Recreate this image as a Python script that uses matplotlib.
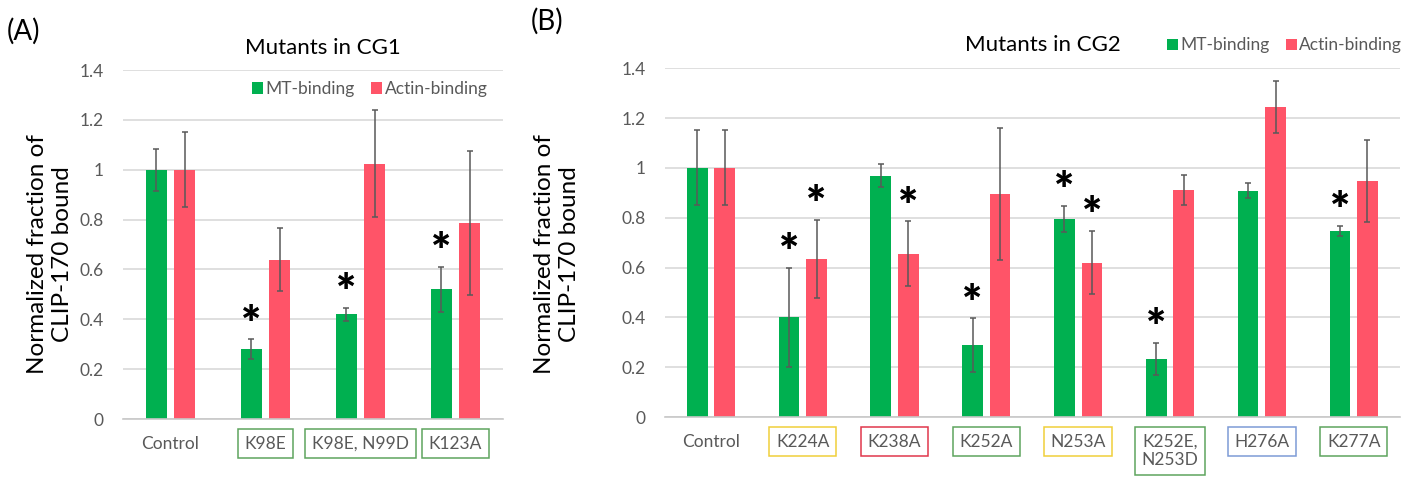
import numpy as np
import matplotlib
matplotlib.use("Agg")
import matplotlib.pyplot as plt

plt.rcParams['font.family'] = ['Lato', 'DejaVu Sans']

# ---- data ----
cg1_labels = ["Control", "K98E", "K98E, N99D", "K123A"]
cg1_box = [None, "green", "green", "green"]
cg1_mt = [1.0, 0.28, 0.42, 0.52]
cg1_mt_err = [0.085, 0.04, 0.025, 0.09]
cg1_actin = [1.0, 0.64, 1.025, 0.787]
cg1_actin_err = [0.15, 0.125, 0.215, 0.29]
cg1_mt_sig = [False, True, True, True]
cg1_actin_sig = [False, False, False, False]

cg2_labels = ["Control", "K224A", "K238A", "K252A", "N253A", "K252E,\nN253D", "H276A", "K277A"]
cg2_box = [None, "yellow", "red", "green", "yellow", "green", "blue", "green"]
cg2_mt = [1.0, 0.40, 0.968, 0.288, 0.795, 0.234, 0.908, 0.747]
cg2_mt_err = [0.15, 0.2, 0.046, 0.108, 0.052, 0.064, 0.03, 0.02]
cg2_actin = [1.0, 0.635, 0.655, 0.895, 0.62, 0.91, 1.243, 0.948]
cg2_actin_err = [0.15, 0.157, 0.13, 0.265, 0.127, 0.06, 0.104, 0.164]
cg2_mt_sig = [False, True, False, True, True, True, False, True]
cg2_actin_sig = [False, True, True, False, True, False, False, False]

GREEN = "#00b050"
RED = "#ff5468"
BOX_COLORS = {"green": "#5ea45e", "yellow": "#f0cf3a", "red": "#e0374c", "blue": "#7d9bd6"}


def panel(ax, labels, boxes, mt, mt_err, actin, actin_err, mt_sig, actin_sig):
    x = np.arange(len(labels))
    w = 0.225
    off = 0.15
    ax.bar(x - off, mt, w, color=GREEN, label="MT-binding", zorder=2)
    ax.bar(x + off, actin, w, color=RED, label="Actin-binding", zorder=2)
    ax.errorbar(x - off, mt, yerr=mt_err, fmt="none", ecolor="#595959",
                elinewidth=1.1, capsize=2.5, capthick=1.1, zorder=3)
    ax.errorbar(x + off, actin, yerr=actin_err, fmt="none", ecolor="#595959",
                elinewidth=1.1, capsize=2.5, capthick=1.1, zorder=3)
    for i in range(len(x)):
        if mt_sig[i]:
            ax.text(x[i] - off, mt[i] + mt_err[i] + 0.055, "*", ha="center",
                    va="center", fontsize=34, fontweight="heavy", zorder=4)
        if actin_sig[i]:
            ax.text(x[i] + off, actin[i] + actin_err[i] + 0.055, "*", ha="center",
                    va="center", fontsize=34, fontweight="heavy", zorder=4)

    ax.set_ylim(0, 1.4)
    ax.set_xlim(-0.5, len(labels) - 0.5)
    ax.set_yticks(np.arange(0, 1.41, 0.2))
    ax.set_yticklabels(["0", "0.2", "0.4", "0.6", "0.8", "1", "1.2", "1.4"])
    ax.yaxis.grid(True, color="#d9d9d9", linewidth=1.2, zorder=0)
    ax.set_axisbelow(True)
    for s in ["top", "right", "left"]:
        ax.spines[s].set_visible(False)
    ax.spines["bottom"].set_color("#c8c8c8")
    ax.spines["bottom"].set_linewidth(1.2)
    ax.tick_params(axis="y", length=0, pad=14, labelsize=12.5, labelcolor="#595959")
    ax.tick_params(axis="x", length=0, pad=12, labelsize=12.5, labelcolor="#595959")
    ax.set_xticks(x)
    ax.set_xticklabels(labels, va="top")
    for t, b in zip(ax.get_xticklabels(), boxes):
        if b is not None:
            t.set_bbox(dict(boxstyle="square,pad=0.38", fc="white",
                            ec=BOX_COLORS[b], lw=1.1))


fig = plt.figure(figsize=(14.18, 4.8), dpi=100)
axA = fig.add_axes([0.0867, 0.127, 0.268, 0.727])
axB = fig.add_axes([0.469, 0.131, 0.518, 0.727])

panel(axA, cg1_labels, cg1_box, cg1_mt, cg1_mt_err, cg1_actin, cg1_actin_err,
      cg1_mt_sig, cg1_actin_sig)
panel(axB, cg2_labels, cg2_box, cg2_mt, cg2_mt_err, cg2_actin, cg2_actin_err,
      cg2_mt_sig, cg2_actin_sig)

axA.text(0.526, 1.063, "Mutants in CG1", transform=axA.transAxes, fontsize=16,
         ha="center", va="center")
axB.text(0.514, 1.065, "Mutants in CG2", transform=axB.transAxes, fontsize=16,
         ha="center", va="center")

legkw = dict(frameon=False, ncol=2, fontsize=12.5, handlelength=0.65, handleheight=0.65,
             handletextpad=0.15, columnspacing=0.9, labelcolor="#595959")
axA.legend(loc="center right", bbox_to_anchor=(1.0, 0.945), **legkw)
axB.legend(loc="center right", bbox_to_anchor=(1.025, 1.065), **legkw)

ylab = "Normalized fraction of\nCLIP-170 bound"
fig.text(0.035, 0.47, ylab, rotation=90, ha="center", va="center", fontsize=17.5,
         linespacing=1.25)
fig.text(0.393, 0.47, ylab, rotation=90, ha="center", va="center", fontsize=17.5,
         linespacing=1.25)

fig.text(0.005, 0.935, "(A)", fontsize=20, ha="left", va="center")
fig.text(0.374, 0.955, "(B)", fontsize=20, ha="left", va="center")

fig.savefig("out.png", dpi=100)
